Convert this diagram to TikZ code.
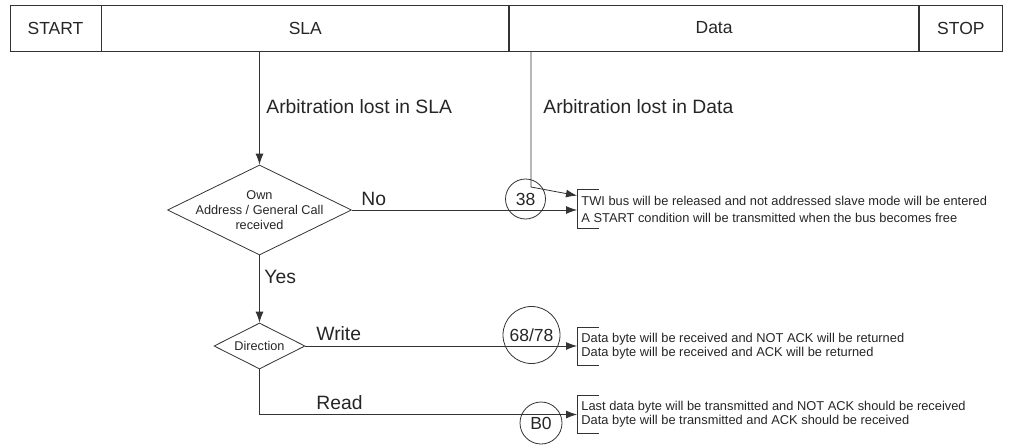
\documentclass[tikz,border=0pt]{standalone}
\usepackage{fontspec}
\setmainfont{Liberation Sans}
\usetikzlibrary{shapes.geometric,arrows.meta,positioning}

\newcommand{\bigtxt}{\fontsize{17.5}{20}\selectfont}
\newcommand{\labeltxt}{\fontsize{19.3}{22}\selectfont}
\newcommand{\smalltxt}{\fontsize{12.85}{14}\selectfont}

\tikzset{
  field/.style={draw, minimum height=46pt, inner sep=0pt, font=\bigtxt},
  decision/.style={draw, diamond, inner sep=0pt},
  decisiontext/.style={inner sep=0pt, align=center, font=\fontsize{12.7}{15}\selectfont},
  state/.style={draw, circle, inner sep=0pt, font=\bigtxt},
  label/.style={anchor=west, inner sep=0pt, font=\labeltxt},
  result/.style={anchor=west, inner xsep=4pt, inner ysep=0pt, align=left, font=\smalltxt},
  flow/.style={-{Latex[length=11pt,width=8pt]}},
}

\begin{document}
\begin{tikzpicture}[x=1pt, y=-1pt, line width=0.8pt, draw=black!80, text=black!85]
  \useasboundingbox (0,0) rectangle (1011,444);

  % Frame fields
  \node[field, minimum width=91pt] (start) at (55.5,28) {START};
  \node[field, minimum width=407pt, right=0pt of start] (sla) {SLA};
  \node[field, minimum width=409pt, right=0pt of sla] (data) {Data};
  \node[field, minimum width=83pt, right=0pt of data] (stop) {STOP};

  % Decisions
  \node[decision, minimum width=184pt, minimum height=90pt] (own) at (259.5,210) {};
  \node[decisiontext] (owntext) at (own) {Own\\Address / General Call\\received};
  \node[decision, minimum width=91pt, minimum height=46pt] (dir) at (259.5,346) {};
  \node[decisiontext] (dirtext) at (dir) {Direction};

  % Status codes
  \node[state, minimum size=40pt] (s38) at (525.5,199) {38};
  \node[state, minimum size=57pt] (s68) at (531.5,335) {68/78};
  \node[state, minimum size=42pt] (sB0) at (541,423) {B0};

  % Actions
  \node[result, minimum height=38pt, font=\fontsize{12.85}{17}\selectfont] (r1) at (577,209)
    {TWI bus will be released and not addressed slave mode will be entered\\A START condition will be transmitted when the bus becomes free};
  \node[result, minimum height=37pt] (r2) at (577,346.5)
    {Data byte will be received and NOT ACK will be returned\\Data byte will be received and ACK will be returned};
  \node[result, minimum height=37pt] (r3) at (577,414.5)
    {Last data byte will be transmitted and NOT ACK should be received\\Data byte will be transmitted and ACK should be received};
  \foreach \r in {r1,r2,r3}
    \draw ([xshift=22pt]\r.north west) -- (\r.north west) -- (\r.south west) -- ++(22pt,0);

  % Connectors
  \coordinate (lost) at (531,187);
  \draw[flow] (own.north |- sla.south) -- (own.north);
  \draw[flow] (lost |- data.south) -- (lost) -- ([yshift=-6pt]r1.north west);
  \draw[flow] (own.east) -- (own.east -| r1.west);
  \draw[flow] (own.south) -- (dir.north);
  \draw[flow] (dir.east) -- (dir.east -| r2.west);
  \draw[flow] (dir.south) |- (r3.west);

  % Labels
  \node[label] (lsla) at (266,107) {Arbitration lost in SLA};
  \node[label] (ldata) at (543,107) {Arbitration lost in Data};
  \node[label] (lno) at (361,199) {No};
  \node[label] (lyes) at (264,277) {Yes};
  \node[label] (lwrite) at (316,334) {Write};
  \node[label] (lread) at (316,403) {Read};
\end{tikzpicture}
\end{document}
